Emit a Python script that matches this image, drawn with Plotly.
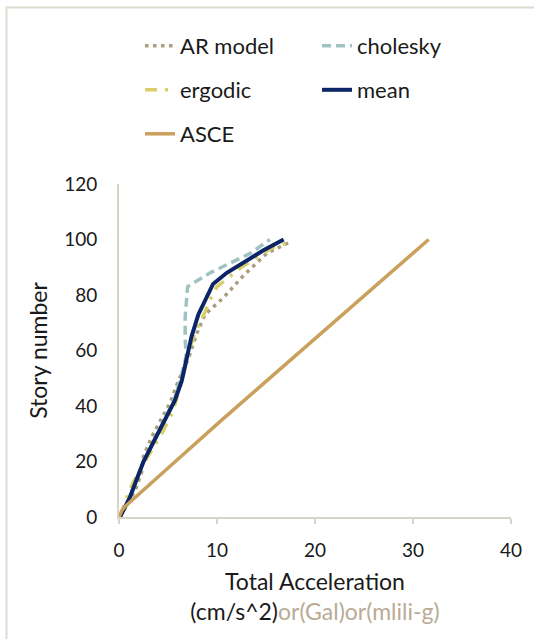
import plotly.graph_objects as go

# ---- data ----
mean_story = [0, 7, 20, 32, 42, 49, 59, 65, 73, 84, 88, 96, 100]
mean_x = [0.1, 1.1, 2.5, 4.2, 5.7, 6.4, 7.05, 7.4, 8.1, 9.6, 11.0, 14.7, 16.8]

chol_story = [0, 7, 20, 32, 42, 50, 58, 64, 72, 83, 88, 95, 100]
chol_x = [0.1, 1.1, 2.5, 4.2, 5.6, 6.3, 6.85, 6.75, 6.75, 7.0, 9.3, 13.4, 15.4]

ar_story = [0, 10, 16, 22, 30, 41, 49, 57, 66, 73, 79, 87, 95, 99]
ar_x = [0.1, 1.7, 2.3, 2.5, 3.5, 5.2, 6.05, 7.07, 7.93, 8.78, 10.65, 12.7, 15.07, 17.4]

erg_story = [0, 10, 16, 30, 38, 46, 50, 58, 66, 74, 77, 83, 90, 97, 99]
erg_x = [0.1, 1.1, 1.97, 4.35, 5.5, 6.2, 6.5, 7.0, 7.7, 8.8, 9.1, 10.0, 12.5, 15.6, 17.4]

asce_story = [0, 1.0, 2.4, 3.9, 6.0, 10.0, 20, 35, 50, 70, 85, 100]
asce_x = [0, 0.1, 0.3, 0.65, 1.3, 2.6, 5.75, 10.5, 15.4, 21.8, 26.7, 31.6]

x_ticks = [0, 10, 20, 30, 40]
y_ticks = [0, 20, 40, 60, 80, 100, 120]

FONT = "Lato"
AXIS_COLOR = "#d9d5c6"

fig = go.Figure()
fig.add_trace(go.Scatter(x=ar_x, y=ar_story, mode="lines", name="AR model",
                         line=dict(color="#a69e7c", width=3.5, dash="3.5px,4.5px"),
                         legend="legend"))
fig.add_trace(go.Scatter(x=chol_x, y=chol_story, mode="lines", name="cholesky",
                         line=dict(color="#9fc3c3", width=3.5, dash="9px,5px"),
                         legend="legend"))
fig.add_trace(go.Scatter(x=erg_x, y=erg_story, mode="lines", name="ergodic",
                         line=dict(color="#d8ce6a", width=3.5, dash="12px,8px,3px,8px"),
                         legend="legend2"))
fig.add_trace(go.Scatter(x=mean_x, y=mean_story, mode="lines", name="mean",
                         line=dict(color="#0c2566", width=4),
                         legend="legend2"))
fig.add_trace(go.Scatter(x=asce_x, y=asce_story, mode="lines", name="ASCE",
                         line=dict(color="#c9a05c", width=3.5),
                         legend="legend3"))

L, R, T, B = 119, 23, 184, 122
W, H = 534, 639
pw, ph = W - L - R, H - T - B


def px2paper_x(px):
    return (px - L) / pw


def px2paper_y(py):
    return (H - B - py) / ph


leg_common = dict(orientation="h", xanchor="left", yanchor="middle",
                  font=dict(family=FONT, size=22, color="#1a1a1a"),
                  bgcolor="rgba(0,0,0,0)", entrywidth=132, entrywidthmode="pixels",
                  itemwidth=30)

fig.update_layout(
    width=W, height=H,
    margin=dict(l=L, r=R, t=T, b=B, autoexpand=False),
    paper_bgcolor="white", plot_bgcolor="white",
    font=dict(family=FONT, color="#1a1a1a"),
    legend=dict(x=px2paper_x(140), y=px2paper_y(46), **leg_common),
    legend2=dict(x=px2paper_x(140), y=px2paper_y(90), **leg_common),
    legend3=dict(x=px2paper_x(140), y=px2paper_y(134), **leg_common),
    xaxis=dict(range=[0, 40], tickvals=x_ticks, showgrid=False, zeroline=False,
               showline=True, linecolor=AXIS_COLOR, linewidth=2,
               ticks="outside", ticklen=5, tickcolor=AXIS_COLOR, tickwidth=2,
               tickfont=dict(family=FONT, size=19, color="#1a1a1a"),
               ticklabelstandoff=10,
               title=dict(text="Total Acceleration<br>(cm/s^2)<span style='color:#b9ab95'>or(Gal)or(mlili-g)</span>",
                          font=dict(family=FONT, size=23, color="#1a1a1a"), standoff=14)),
    yaxis=dict(range=[0, 120], tickvals=y_ticks, showgrid=False, zeroline=False,
               showline=True, linecolor=AXIS_COLOR, linewidth=2,
               ticks="", ticklabelstandoff=16,
               tickfont=dict(family=FONT, size=19, color="#1a1a1a"),
               title=dict(text="Story number", font=dict(family=FONT, size=23, color="#1a1a1a"),
                          standoff=10)),
    shapes=[dict(type="rect", xref="paper", yref="paper",
                 x0=px2paper_x(6.5), x1=1.3, y0=-0.6, y1=px2paper_y(7.5),
                 line=dict(color="#dedbd0", width=2), layer="below")],
)

fig.write_html(
    "out.html",
    config={"displayModeBar": False},
    post_script="document.body.style.margin='0';document.body.style.overflow='hidden';"
                "document.documentElement.style.overflow='hidden';",
)
